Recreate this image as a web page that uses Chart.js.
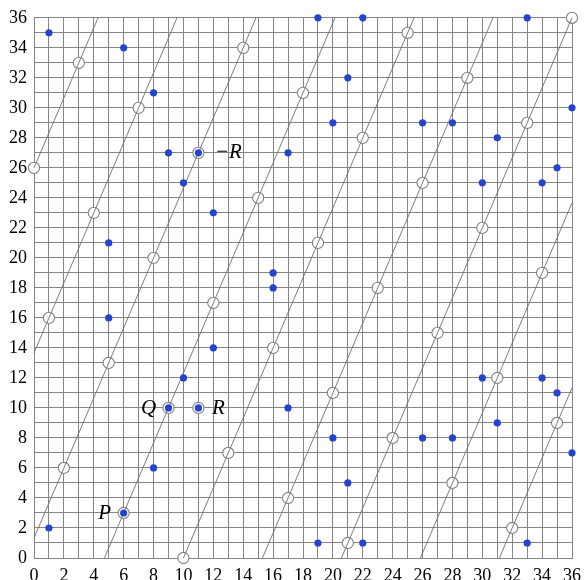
<!DOCTYPE html>
<html>
<head>
<meta charset="utf-8">
<script src="https://cdn.jsdelivr.net/npm/chart.js@4"></script>
<style>
html,body{margin:0;padding:0;background:#fff;}
#wrap{width:588px;height:580px;position:relative;}
</style>
</head>
<body>
<div id="wrap"><canvas id="c" width="588" height="580"></canvas></div>
<script>
// Curve points (blue dots)
const curveX = [1,1,5,5,6,6,8,8,9,9,10,10,11,11,12,12,16,16,17,17,19,19,20,20,21,21,22,22,26,26,28,28,30,30,31,31,33,33,34,34,35,35,36,36];
const curveY = [2,35,16,21,3,34,6,31,10,27,12,25,10,27,14,23,18,19,10,27,1,36,8,29,5,32,1,36,8,29,8,29,12,25,9,28,1,36,12,25,11,26,7,30];
// Open circles (points on the line)
const circleX = [0,1,2,3,4,5,6,7,8,9,10,11,12,13,14,15,16,17,18,19,20,21,22,23,24,25,26,27,28,29,30,31,32,33,34,35,36,11];
const circleY = [26,16,6,33,23,13,3,30,20,10,0,27,17,7,34,24,14,4,31,21,11,1,28,18,8,35,25,15,5,32,22,12,2,29,19,9,36,10];
// Line segments (wrapped line pieces)
const lineX0 = [0,0,0,4.714,10,15.286,20.571,25.857,31.143];
const lineY0 = [26,13.667,1.333,0,0,0,0,0,0];
const lineX1 = [4.286,9.571,14.857,20.143,25.429,30.714,36,36,36];
const lineY1 = [36,36,36,36,36,36,36,23.667,11.333];
// Named points
const labelNames = ['P','Q','R','\u2212R'];
const labelX = [6,9,11,11];
const labelY = [3,10,10,27];
// Tick labels
const tickLabels = [0,2,4,6,8,10,12,14,16,18,20,22,24,26,28,30,32,34,36];

const SERIF = "'Liberation Serif', 'Times New Roman', serif";
Chart.defaults.font.family = SERIF;

const datasets = [];
datasets.push({
  type:'scatter',
  data: curveX.map((x,i)=>({x:x,y:curveY[i]})),
  pointRadius:3.6, pointBackgroundColor:'#2443cf', pointBorderWidth:0,
  order:0, clip:false
});
for (let i=0;i<lineX0.length;i++){
  datasets.push({
    type:'line',
    data:[{x:lineX0[i],y:lineY0[i]},{x:lineX1[i],y:lineY1[i]}],
    borderColor:'#6e6e6e', borderWidth:0.9, pointRadius:0, fill:false,
    order:1, clip:false
  });
}
datasets.push({
  type:'scatter',
  data: circleX.map((x,i)=>({x:x,y:circleY[i]})),
  pointRadius:5.6, pointBackgroundColor:'#ffffff', pointBorderColor:'#808080', pointBorderWidth:1.1,
  order:2, clip:false
});

const labelOffsets = [[-19,1],[-20,1],[20,1],[30,0]];
const labelPlugin = {
  id:'pointLabels',
  afterDatasetsDraw(chart){
    const ctx = chart.ctx, xs = chart.scales.x, ys = chart.scales.y;
    ctx.save();
    ctx.font = "italic 21px " + SERIF;
    ctx.fillStyle = '#000';
    ctx.textAlign = 'center';
    ctx.textBaseline = 'middle';
    labelNames.forEach((n,i)=>{
      const px = xs.getPixelForValue(labelX[i]) + labelOffsets[i][0];
      const py = ys.getPixelForValue(labelY[i]) + labelOffsets[i][1];
      ctx.fillText(n, px, py);
    });
    ctx.restore();
  }
};

const tickCb = v => tickLabels.includes(v) ? String(v) : '';
const axisCommon = {
  type:'linear', min:0, max:36,
  grid:{color:'#858585', lineWidth:1, drawTicks:false},
  border:{color:'#858585', width:1},
};
new Chart(document.getElementById('c'), {
  data:{datasets},
  options:{
    responsive:false, animation:false,
    layout:{padding:{top:14,right:10,left:0,bottom:0}},
    plugins:{legend:{display:false}, tooltip:{enabled:false}},
    scales:{
      x:Object.assign({}, axisCommon, {
        position:'bottom',
        ticks:{stepSize:1, autoSkip:false, maxRotation:0, padding:7, color:'#000',
          font:{family:SERIF, size:18}, callback:tickCb},
        afterFit(s){ s.height = 22; }
      }),
      y:Object.assign({}, axisCommon, {
        position:'left',
        ticks:{stepSize:1, autoSkip:false, padding:7, color:'#000',
          font:{family:SERIF, size:18}, callback:tickCb},
        afterFit(s){ s.width = 34; }
      })
    }
  },
  plugins:[labelPlugin]
});
</script>
</body>
</html>
